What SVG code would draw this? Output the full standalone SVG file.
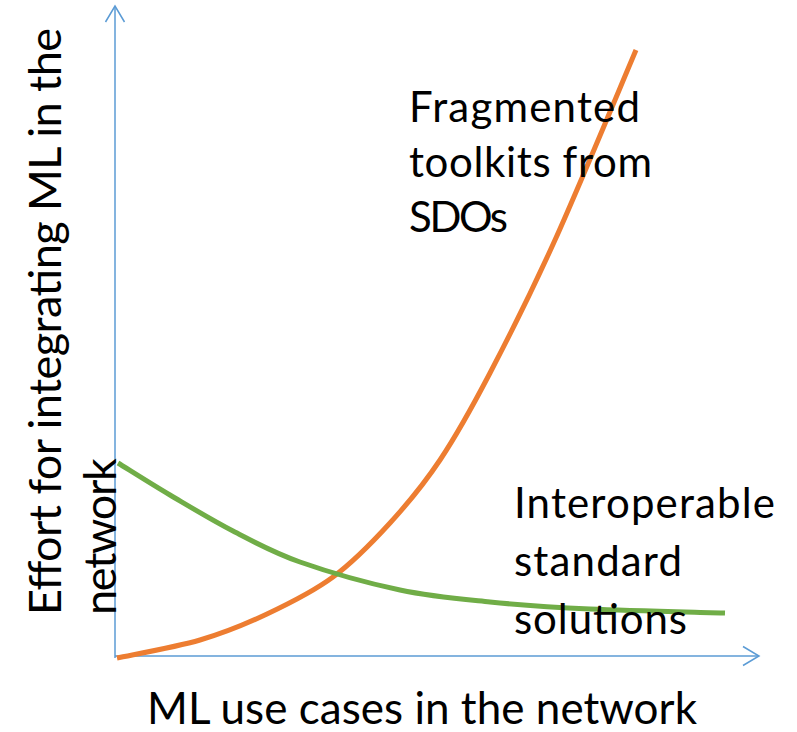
<svg xmlns="http://www.w3.org/2000/svg" width="797" height="732" viewBox="0 0 797 732">
  <style>
    .axis { fill: none; stroke: #5B9BD5; stroke-width: 1.5; }
    .curve { fill: none; stroke-width: 5; stroke-linecap: butt; stroke-linejoin: round; }
    .label { font-family: Lato, "Open Sans", "Liberation Sans", sans-serif; fill: #000000; }
  </style>
  <defs>
    <marker id="openArrow" viewBox="0 0 20 22" refX="18" refY="11" markerWidth="20" markerHeight="22" markerUnits="userSpaceOnUse" orient="auto">
      <path d="M2,1.5 L18,11 L2,20.5" fill="none" stroke="#5B9BD5" stroke-width="1.5"/>
    </marker>
  </defs>

  <!-- axes -->
  <g id="connectors">
    <line id="y-axis" class="axis" x1="115" y1="658" x2="115" y2="6" marker-end="url(#openArrow)"/>
    <line id="x-axis" class="axis" x1="115" y1="656" x2="759" y2="656" marker-end="url(#openArrow)"/>
  </g>

  <!-- curves -->
  <g id="curve-fragmented">
    <path class="curve" stroke="#ED7D31" d="M117,658 C130.8,655 175,647.3 200,640 C225,632.7 244.8,624.5 267,614 C289.2,603.5 312.5,592.2 333,577 C353.5,561.8 372.2,542.5 390,523 C407.8,503.5 423.3,485 440,460 C456.7,435 470.8,409.7 490,373 C509.2,336.3 530.7,293.8 555,240 C579.3,186.2 622.5,81.7 636,50"/>
  </g>
  <g id="curve-interoperable">
    <path class="curve" stroke="#70AD47" d="M118,463 C126.7,468.3 150.8,483.7 170,495 C189.2,506.3 211.3,519.8 233,531 C254.7,542.2 272.2,552.2 300,562 C327.8,571.8 368.3,583.3 400,590 C431.7,596.7 458.3,598.8 490,602 C521.7,605.2 550.8,607.2 590,609 C629.2,610.8 702.5,612.3 725,613"/>
  </g>

  <!-- labels -->
  <g id="label-fragmented" class="label" font-size="42">
    <text x="409" y="122" textLength="231">Fragmented</text>
    <text x="409" y="177" textLength="243">toolkits from</text>
    <text x="409" y="232" textLength="99">SDOs</text>
  </g>
  <g id="label-interoperable" class="label" font-size="42">
    <text x="514" y="518" textLength="261">Interoperable</text>
    <text x="514" y="576" textLength="168">standard</text>
    <text x="514" y="634" textLength="173">solutions</text>
  </g>
  <g id="label-x-axis" class="label" font-size="44">
    <text x="147" y="724" textLength="550">ML use cases in the network</text>
  </g>
  <g id="label-y-axis" class="label" font-size="45">
    <text transform="translate(61,615) rotate(-90)" textLength="587">Effort for integrating ML in the</text>
    <text transform="translate(116,615) rotate(-90)" textLength="157">network</text>
  </g>
</svg>
